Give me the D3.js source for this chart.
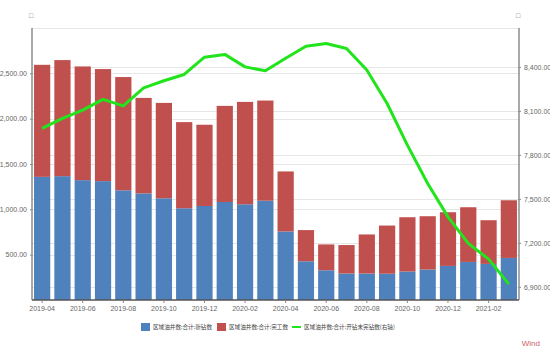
<!DOCTYPE html>
<html>
<head>
<meta charset="utf-8">
<script src="https://cdn.jsdelivr.net/npm/d3@7"></script>
<style>
  html, body { margin: 0; padding: 0; background: #fff; }
  svg { display: block; }
  .tick-label { font-family: "Liberation Sans", Arial, sans-serif; font-size: 7px; fill: #666; }
  .legend-label { font-family: "Noto Sans CJK SC", sans-serif; font-size: 5.6px; fill: #444; }
</style>
</head>
<body>
<div id="chart"></div>
<script>
'use strict';

// ── Data ──────────────────────────────────────────────────────────────────────
const months = [
  '2019-04', '2019-05', '2019-06', '2019-07', '2019-08', '2019-09',
  '2019-10', '2019-11', '2019-12', '2020-01', '2020-02', '2020-03',
  '2020-04', '2020-05', '2020-06', '2020-07', '2020-08', '2020-09',
  '2020-10', '2020-11', '2020-12', '2021-01', '2021-02', '2021-03'
];
// 新钻数 (bottom, blue)
const drilled = [
  1358, 1366, 1322, 1311, 1210, 1176, 1122, 1012, 1037, 1081, 1056, 1095,
  756, 427, 328, 292, 292, 290, 314, 336, 376, 420, 398, 464
];
// 完工数 (stacked on top, red)
const completed = [
  1236, 1280, 1254, 1236, 1249, 1053, 1052, 950, 896, 1060, 1129, 1105,
  662, 344, 285, 314, 431, 531, 599, 588, 592, 603, 482, 636
];
// 开钻未完钻数 (right axis, green)
const duc = [
  7980, 8048, 8105, 8178, 8134, 8257, 8305, 8348, 8466, 8485, 8400, 8373,
  8459, 8540, 8559, 8525, 8378, 8150, 7866, 7605, 7377, 7196, 7089, 6918
];
const leftTicks  = [500, 1000, 1500, 2000, 2500];
const rightTicks = [6900, 7200, 7500, 7800, 8100, 8400];
const legendNames = [
  '区域油井数:合计:新钻数',
  '区域油井数:合计:完工数',
  '区域油井数:合计:开钻未完钻数(右轴)'
];

// ── Layout ────────────────────────────────────────────────────────────────────
const W = 550, H = 354;
const PLOT = { left: 32, right: 519, top: 28, bottom: 300 };
const BLUE  = '#4f81bd';
const RED   = '#c0504d';
const GREEN = '#22e41c';

const svg = d3.select('#chart').append('svg')
  .attr('width', W).attr('height', H);

const x = d3.scaleBand()
  .domain(months)
  .range([PLOT.left, PLOT.right])
  .paddingInner(0.2)
  .paddingOuter(0.1);

const yL = d3.scaleLinear().domain([0, 3000]).range([PLOT.bottom, PLOT.top]);
const yR = d3.scaleLinear().domain([6810, 8665]).range([PLOT.bottom, PLOT.top]);

const fmt = d3.format(',.2f');

// ── Grid ──────────────────────────────────────────────────────────────────────
const grid = svg.append('g');
grid.selectAll('.gl').data(leftTicks).enter().append('line')
  .attr('x1', PLOT.left).attr('x2', PLOT.right)
  .attr('y1', d => Math.round(yL(d)) + 0.5).attr('y2', d => Math.round(yL(d)) + 0.5)
  .attr('stroke', '#e6e6e6');
grid.selectAll('.gr').data(rightTicks).enter().append('line')
  .attr('x1', PLOT.left).attr('x2', PLOT.right)
  .attr('y1', d => Math.round(yR(d)) + 0.5).attr('y2', d => Math.round(yR(d)) + 0.5)
  .attr('stroke', '#e6e6e6');
grid.append('line')
  .attr('x1', PLOT.left).attr('x2', PLOT.right)
  .attr('y1', PLOT.top + 0.5).attr('y2', PLOT.top + 0.5)
  .attr('stroke', '#e6e6e6');

// ── Bars ──────────────────────────────────────────────────────────────────────
const bars = svg.append('g');
bars.selectAll('.b').data(months).enter().append('rect')
  .attr('x', d => x(d))
  .attr('width', x.bandwidth())
  .attr('y', (d, i) => yL(drilled[i]))
  .attr('height', (d, i) => yL(0) - yL(drilled[i]))
  .attr('fill', BLUE);
bars.selectAll('.r').data(months).enter().append('rect')
  .attr('x', d => x(d))
  .attr('width', x.bandwidth())
  .attr('y', (d, i) => yL(drilled[i] + completed[i]))
  .attr('height', (d, i) => yL(drilled[i]) - yL(drilled[i] + completed[i]))
  .attr('fill', RED);

// ── Line ──────────────────────────────────────────────────────────────────────
const line = d3.line()
  .x((d, i) => x(months[i]) + x.bandwidth() / 2)
  .y(d => yR(d));
svg.append('path')
  .datum(duc)
  .attr('d', line)
  .attr('fill', 'none')
  .attr('stroke', GREEN)
  .attr('stroke-width', 3)
  .attr('stroke-linejoin', 'round');

// ── Axes ──────────────────────────────────────────────────────────────────────
const axisL = svg.append('g').attr('transform', `translate(${PLOT.left},0)`)
  .call(d3.axisLeft(yL).tickValues(leftTicks).tickSize(2).tickFormat(fmt));
const axisR = svg.append('g').attr('transform', `translate(${PLOT.right},0)`)
  .call(d3.axisRight(yR).tickValues(rightTicks).tickSize(2).tickFormat(fmt));
const axisB = svg.append('g').attr('transform', `translate(0,${PLOT.bottom})`)
  .call(d3.axisBottom(x).tickValues(months.filter((d, i) => i % 2 === 0)).tickSize(3));

[axisL, axisR, axisB].forEach(a => {
  a.select('.domain').attr('stroke', '#555');
  a.selectAll('.tick line').attr('stroke', '#888');
  a.selectAll('.tick text').attr('class', 'tick-label').attr('font-size', null).attr('font-family', null);
});
axisL.select('.domain').attr('d', `M0,${PLOT.top}V${PLOT.bottom}`);
axisR.select('.domain').attr('d', `M0,${PLOT.top}V${PLOT.bottom}`);
axisB.select('.domain').attr('d', `M${PLOT.left},0H${PLOT.right}`).attr('stroke-width', 1.5);
axisB.selectAll('.tick text').attr('dy', '0.75em');

// unit placeholders above the axes
svg.append('text').attr('x', PLOT.left - 1).attr('y', 18).attr('text-anchor', 'middle')
  .attr('class', 'tick-label').text('□');
svg.append('text').attr('x', PLOT.right - 1).attr('y', 18).attr('text-anchor', 'middle')
  .attr('class', 'tick-label').text('□');

// ── Legend ────────────────────────────────────────────────────────────────────
const lg = svg.append('g').attr('transform', 'translate(141,327)');
lg.append('rect').attr('x', 0).attr('y', -4).attr('width', 9).attr('height', 8).attr('fill', BLUE);
lg.append('text').attr('x', 12).attr('y', 2).attr('class', 'legend-label').text(legendNames[0]);
lg.append('rect').attr('x', 76).attr('y', -4).attr('width', 9).attr('height', 8).attr('fill', RED);
lg.append('text').attr('x', 88).attr('y', 2).attr('class', 'legend-label').text(legendNames[1]);
lg.append('line').attr('x1', 151).attr('x2', 160).attr('y1', 0).attr('y2', 0)
  .attr('stroke', GREEN).attr('stroke-width', 2);
lg.append('text').attr('x', 163).attr('y', 2).attr('class', 'legend-label').text(legendNames[2]);

svg.append('text').attr('x', 540).attr('y', 346).attr('text-anchor', 'end')
  .attr('font-family', '"Liberation Sans", Arial, sans-serif').attr('font-size', 8)
  .attr('fill', '#d0606a').text('Wind');
</script>
</body>
</html>
